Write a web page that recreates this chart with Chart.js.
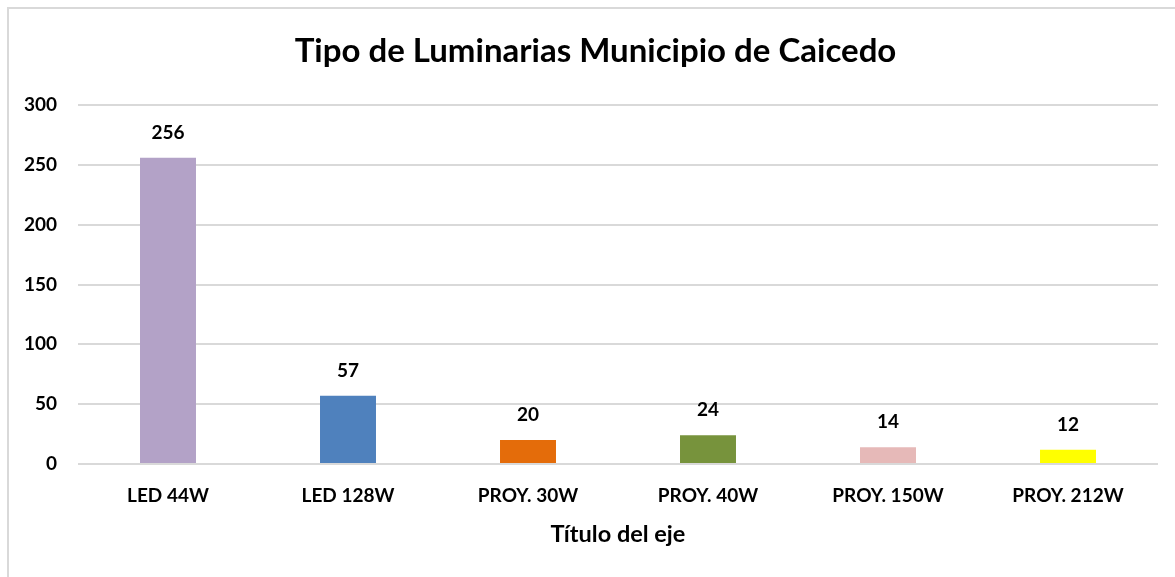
<!DOCTYPE html>
<html>
<head>
<meta charset="utf-8">
<script src="https://cdn.jsdelivr.net/npm/chart.js@4/dist/chart.umd.min.js"></script>
<style>
    body { margin: 0; background: #fff; }
    #marco { position: absolute; left: 7px; top: 7px; width: 1175px; height: 577px;
             border-left: 2px solid #d9d9d9; border-top: 2px solid #d9d9d9; }
    #wrap { position: absolute; left: 0; top: 0; width: 1175px; height: 577px; }
</style>
</head>
<body>
<div id="marco"></div>
<div id="wrap"><canvas id="chartLuminarias"></canvas></div>
<script>
const tipos = ['LED 44W', 'LED 128W', 'PROY. 30W', 'PROY. 40W', 'PROY. 150W', 'PROY. 212W'];
const cantidades = [256, 57, 20, 24, 14, 12];
const colores = ['#b3a2c7', '#4f81bd', '#e46c0a', '#77933c', '#e6b9b8', '#ffff00'];
const ticksY = [0, 50, 100, 150, 200, 250, 300];
const titulo = 'Tipo de Luminarias Municipio de Caicedo';

const fuente = 'Lato, Calibri, sans-serif';

// titulo centrado sobre el marco completo (no sobre el area del grafico)
const tituloMarco = {
    id: 'tituloMarco',
    afterDraw(chart) {
        const ctx = chart.ctx;
        ctx.save();
        ctx.font = 'bold 33px ' + fuente;
        ctx.fillStyle = '#000';
        ctx.textAlign = 'center';
        ctx.textBaseline = 'middle';
        ctx.fillText(titulo, (chart.width + 16) / 2, 51);
        ctx.restore();
    }
};

// etiquetas encima de cada barra
const etiquetas = {
    id: 'etiquetas',
    afterDatasetsDraw(chart) {
        const ctx = chart.ctx;
        const meta = chart.getDatasetMeta(0);
        ctx.save();
        ctx.font = 'bold 19px ' + fuente;
        ctx.fillStyle = '#000';
        ctx.textAlign = 'center';
        ctx.textBaseline = 'middle';
        meta.data.forEach((bar, i) => {
            ctx.fillText(chart.data.datasets[0].data[i], bar.x, bar.y - 25);
        });
        ctx.restore();
    }
};

const ctx = document.getElementById('chartLuminarias').getContext('2d');

const chartLuminarias = new Chart(ctx, {
    type: 'bar',
    data: {
        labels: tipos,
        datasets: [{
            label: 'Luminarias',
            data: cantidades,
            backgroundColor: colores,
            borderWidth: 0,
            categoryPercentage: 1,
            barPercentage: 0.311
        }]
    },
    options: {
        responsive: true,
        maintainAspectRatio: false,
        animation: false,
        layout: { padding: { left: 0, right: 17, top: 105, bottom: 0 } },
        plugins: {
            legend: { display: false },
            tooltip: { enabled: false },
            title: { display: false }
        },
        scales: {
            x: {
                grid: { display: false, drawTicks: false },
                border: { display: false },
                ticks: {
                    color: '#000',
                    font: { family: fuente, size: 19, weight: 'bold' },
                    padding: 20,
                    maxRotation: 0
                },
                title: {
                    display: true,
                    text: 'Título del eje',
                    color: '#000',
                    font: { family: fuente, size: 23.5, weight: 'bold' },
                    padding: { top: 0, bottom: 28 }
                },
                afterFit: (scale) => { scale.height = 113; }
            },
            y: {
                min: 0,
                max: 300,
                afterBuildTicks: (scale) => { scale.ticks = ticksY.map(v => ({ value: v })); },
                grid: { color: '#d9d9d9', lineWidth: 2, drawTicks: false },
                border: { display: false },
                ticks: {
                    color: '#000',
                    font: { family: fuente, size: 19, weight: 'bold' },
                    padding: 21
                },
                afterFit: (scale) => { scale.width = 78; }
            }
        }
    },
    plugins: [etiquetas, tituloMarco]
});
</script>
</body>
</html>
